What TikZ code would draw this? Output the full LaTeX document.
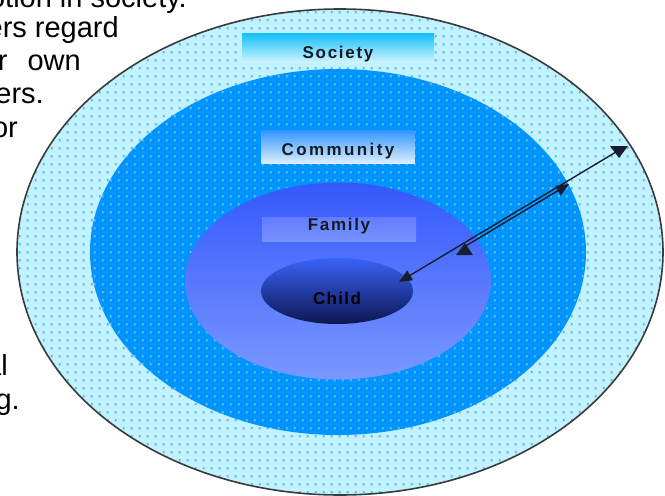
\documentclass[tikz,border=0pt]{standalone}
\usepackage{fontspec}
\setmainfont{Liberation Sans}
\usetikzlibrary{shapes.geometric,arrows.meta,patterns.meta}

\definecolor{ringbg}{RGB}{196,241,255}
\definecolor{ringdot}{RGB}{56,196,250}
\definecolor{commbg}{RGB}{0,148,255}
\definecolor{commdot}{RGB}{100,192,255}
\definecolor{famtop}{RGB}{52,88,252}
\definecolor{fambot}{RGB}{122,152,255}
\definecolor{childtop}{RGB}{58,98,248}
\definecolor{childbot}{RGB}{12,22,80}
\definecolor{bandtop}{RGB}{72,114,255}
\definecolor{bandbot}{RGB}{14,24,74}
\definecolor{edge}{RGB}{58,58,58}
\definecolor{labeltext}{RGB}{22,26,34}
\definecolor{socboxtop}{RGB}{16,190,250}
\definecolor{socboxbot}{RGB}{205,244,255}
\definecolor{comboxtop}{RGB}{50,150,255}
\definecolor{comboxbot}{RGB}{218,238,255}
\definecolor{famboxtop}{RGB}{98,126,255}
\definecolor{famboxbot}{RGB}{118,146,255}
\definecolor{wire}{RGB}{24,30,48}

% one small dot per cell of the stipple texture
\tikzdeclarepattern{
  name=stipple,
  type=uncolored,
  bounding box={(0pt,0pt) and (8.3pt,8.1pt)},
  tile size={(8.3pt,8.1pt)},
  code={\fill (3pt,3pt) rectangle (5pt,5.4pt);}
}

\newcommand\tagfont[1]{\fontsize{17}{20}\selectfont\bfseries\addfontfeature{LetterSpace=#1}}

\begin{document}
\begin{tikzpicture}[x=1pt,y=-1pt,
  docline/.style={anchor=base east, inner sep=0pt,
    font=\fontsize{29}{33}\selectfont, text=black},
  tag/.style={inner sep=0pt, text depth=0pt, text=labeltext, font=\tagfont{10}},
  ring/.style={ellipse, inner sep=0pt},
  dotted fill/.style 2 args={preaction={fill=#1}, pattern=stipple, pattern color=#2},
  link/.style={draw=wire, line width=1.4pt},
]
\useasboundingbox (0,0) rectangle (665,496);

% running text of the page beside the figure
\node[docline] (t1) at (187,7)   {otion in society.};
\node[docline] (t2) at (119,37)  {ers regard};
\node[docline] (t3) at (81,70)   {r\hspace{20pt}own};
\node[docline] (t4) at (44,103)  {ers.};
\node[docline] (t5) at (18,137)  {or};
\node[docline] (t6) at (8,375)   {al};
\node[docline] (t7) at (20,409)  {g.};

% nested circles of influence
\node[ring, dotted fill={ringbg}{ringdot}, minimum width=646pt, minimum height=486pt]
  (society) at (340,252) {};
\draw[edge, line width=1.6pt] (society.center) ellipse [x radius=323, y radius=243];
\node[ring, dotted fill={commbg}{commdot}, minimum width=496pt, minimum height=366pt]
  (community) at (338,252) {};
\node[ring, top color=famtop, bottom color=fambot, minimum width=306pt, minimum height=197pt]
  (family) at (338,281) {};

% level labels
\node[tag, top color=socboxtop, bottom color=socboxbot, minimum width=192pt,
  minimum height=29pt, text height=21pt] (socTag) at (338,47.5) {Society};
\node[tag, top color=comboxtop, bottom color=comboxbot, minimum width=153pt,
  minimum height=33pt, text height=17pt, font=\tagfont{14}]
  (comTag) at (338,146.5) {Community};
\node[tag, top color=famboxtop, bottom color=famboxbot, minimum width=154pt,
  minimum height=24pt, text height=2pt] (famTag) at (339,229) {Family};

% the child at the centre
\node[ring, tag, top color=childtop, bottom color=childbot, minimum width=152pt,
  minimum height=66pt, text height=26pt, text=black, font=\tagfont{8},
  path picture={\shade[top color=bandtop, bottom color=bandbot] (281,279) rectangle (397,327);}]
  (child) at (337,291) {Child};

% reach of each level
\coordinate (tipC) at (399,282);
\coordinate (tipO) at (616,152);
\coordinate (tipF) at (464,247);
\coordinate (tipM) at (569,184);
\draw[link, {Triangle[length=13pt,width=11pt]}-] (tipC) -- (tipO);
\draw[link, -{Triangle[length=13pt,width=11pt]}] (tipF) -- (tipM);
\fill[wire] (610,146) -- (628,146) -- (619,158) -- cycle;
\fill[wire] (456,255) -- (473,255) -- (465,243) -- cycle;
\end{tikzpicture}
\end{document}
